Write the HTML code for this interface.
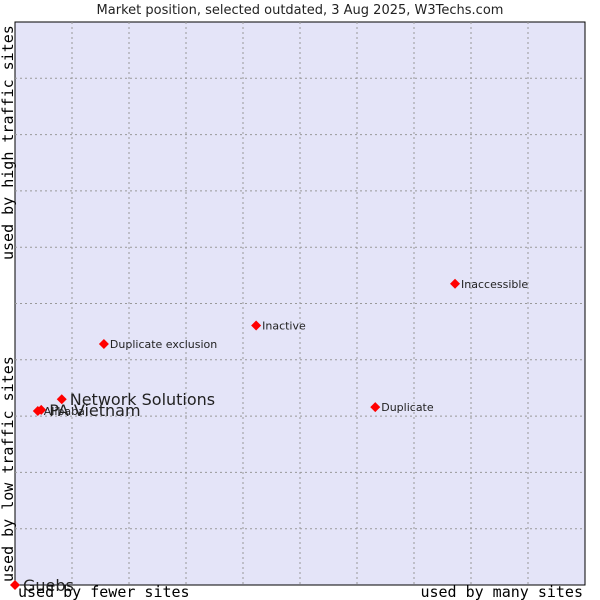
<!DOCTYPE html>
<html><head><meta charset="utf-8"><style>
body{margin:0;background:#fff;width:600px;height:600px;overflow:hidden}
svg{display:block}
</style></head><body>
<svg id="chart" width="600" height="600" xmlns="http://www.w3.org/2000/svg">
<text x="300" y="14" text-anchor="middle" font-family="DejaVu Sans, sans-serif" font-size="13" fill="#222">Market position, selected outdated, 3 Aug 2025, W3Techs.com</text>
<rect x="15" y="22" width="570" height="563" fill="#e4e4f8" stroke="#000" stroke-width="1"/>
<g id="grid"></g>
<g id="points"></g>
<text x="18" y="597" font-family="DejaVu Sans Mono, Liberation Mono, monospace" font-size="15" fill="#000">used by fewer sites</text>
<text x="583" y="597" text-anchor="end" font-family="DejaVu Sans Mono, Liberation Mono, monospace" font-size="15" fill="#000">used by many sites</text>
<text transform="translate(13,582) rotate(-90)" font-family="DejaVu Sans Mono, Liberation Mono, monospace" font-size="15" fill="#000">used by low traffic sites</text>
<text transform="translate(13,260) rotate(-90)" font-family="DejaVu Sans Mono, Liberation Mono, monospace" font-size="15" fill="#000">used by high traffic sites</text>
</svg>
<script>
const names=["Guebs","Network Solutions","PA Vietnam","Alibaba","Duplicate exclusion","Inactive","Inaccessible","Duplicate"];
const xValues=[0,8.2,4.6,4.0,15.6,42.3,77.2,63.2];
const yValues=[0,33.0,31.1,30.9,42.8,46.1,53.5,31.6];
const bigLabel=[true,true,true,false,false,false,false,false];
const L=15,T=22,W=570,H=563;
const sx=v=>L+v/100*W, sy=v=>T+H-v/100*H;
const NS="http://www.w3.org/2000/svg";
const grid=document.getElementById('grid');
for(let i=1;i<10;i++){
  const v=document.createElementNS(NS,'line');
  v.setAttribute('x1',sx(i*10));v.setAttribute('x2',sx(i*10));v.setAttribute('y1',T);v.setAttribute('y2',T+H);
  v.setAttribute('stroke','#999');v.setAttribute('stroke-dasharray','2,3');
  
  
  grid.appendChild(v);
  const h=document.createElementNS(NS,'line');
  h.setAttribute('y1',sy(i*10));h.setAttribute('y2',sy(i*10));h.setAttribute('x1',L);h.setAttribute('x2',L+W);
  h.setAttribute('stroke','#999');h.setAttribute('stroke-dasharray','2,3');
  
  
  grid.appendChild(h);
}
const pts=document.getElementById('points');
names.forEach((n,i)=>{
  const x=sx(xValues[i]),y=sy(yValues[i]);
  const d=document.createElementNS(NS,'path');
  d.setAttribute('d',`M${x} ${y-5}L${x+5} ${y}L${x} ${y+5}L${x-5} ${y}Z`);
  d.setAttribute('fill','#f00');
  
  
  pts.appendChild(d);
  const t=document.createElementNS(NS,'text');
  t.setAttribute('x',x+(bigLabel[i]?8:6));
  t.setAttribute('y',y+(bigLabel[i]?6:4));
  t.setAttribute('font-family','DejaVu Sans, sans-serif');
  t.setAttribute('font-size',bigLabel[i]?'16':'11');
  t.setAttribute('fill','#222');
  t.textContent=n;
  
  
  pts.appendChild(t);
});
</script>
</body></html>
